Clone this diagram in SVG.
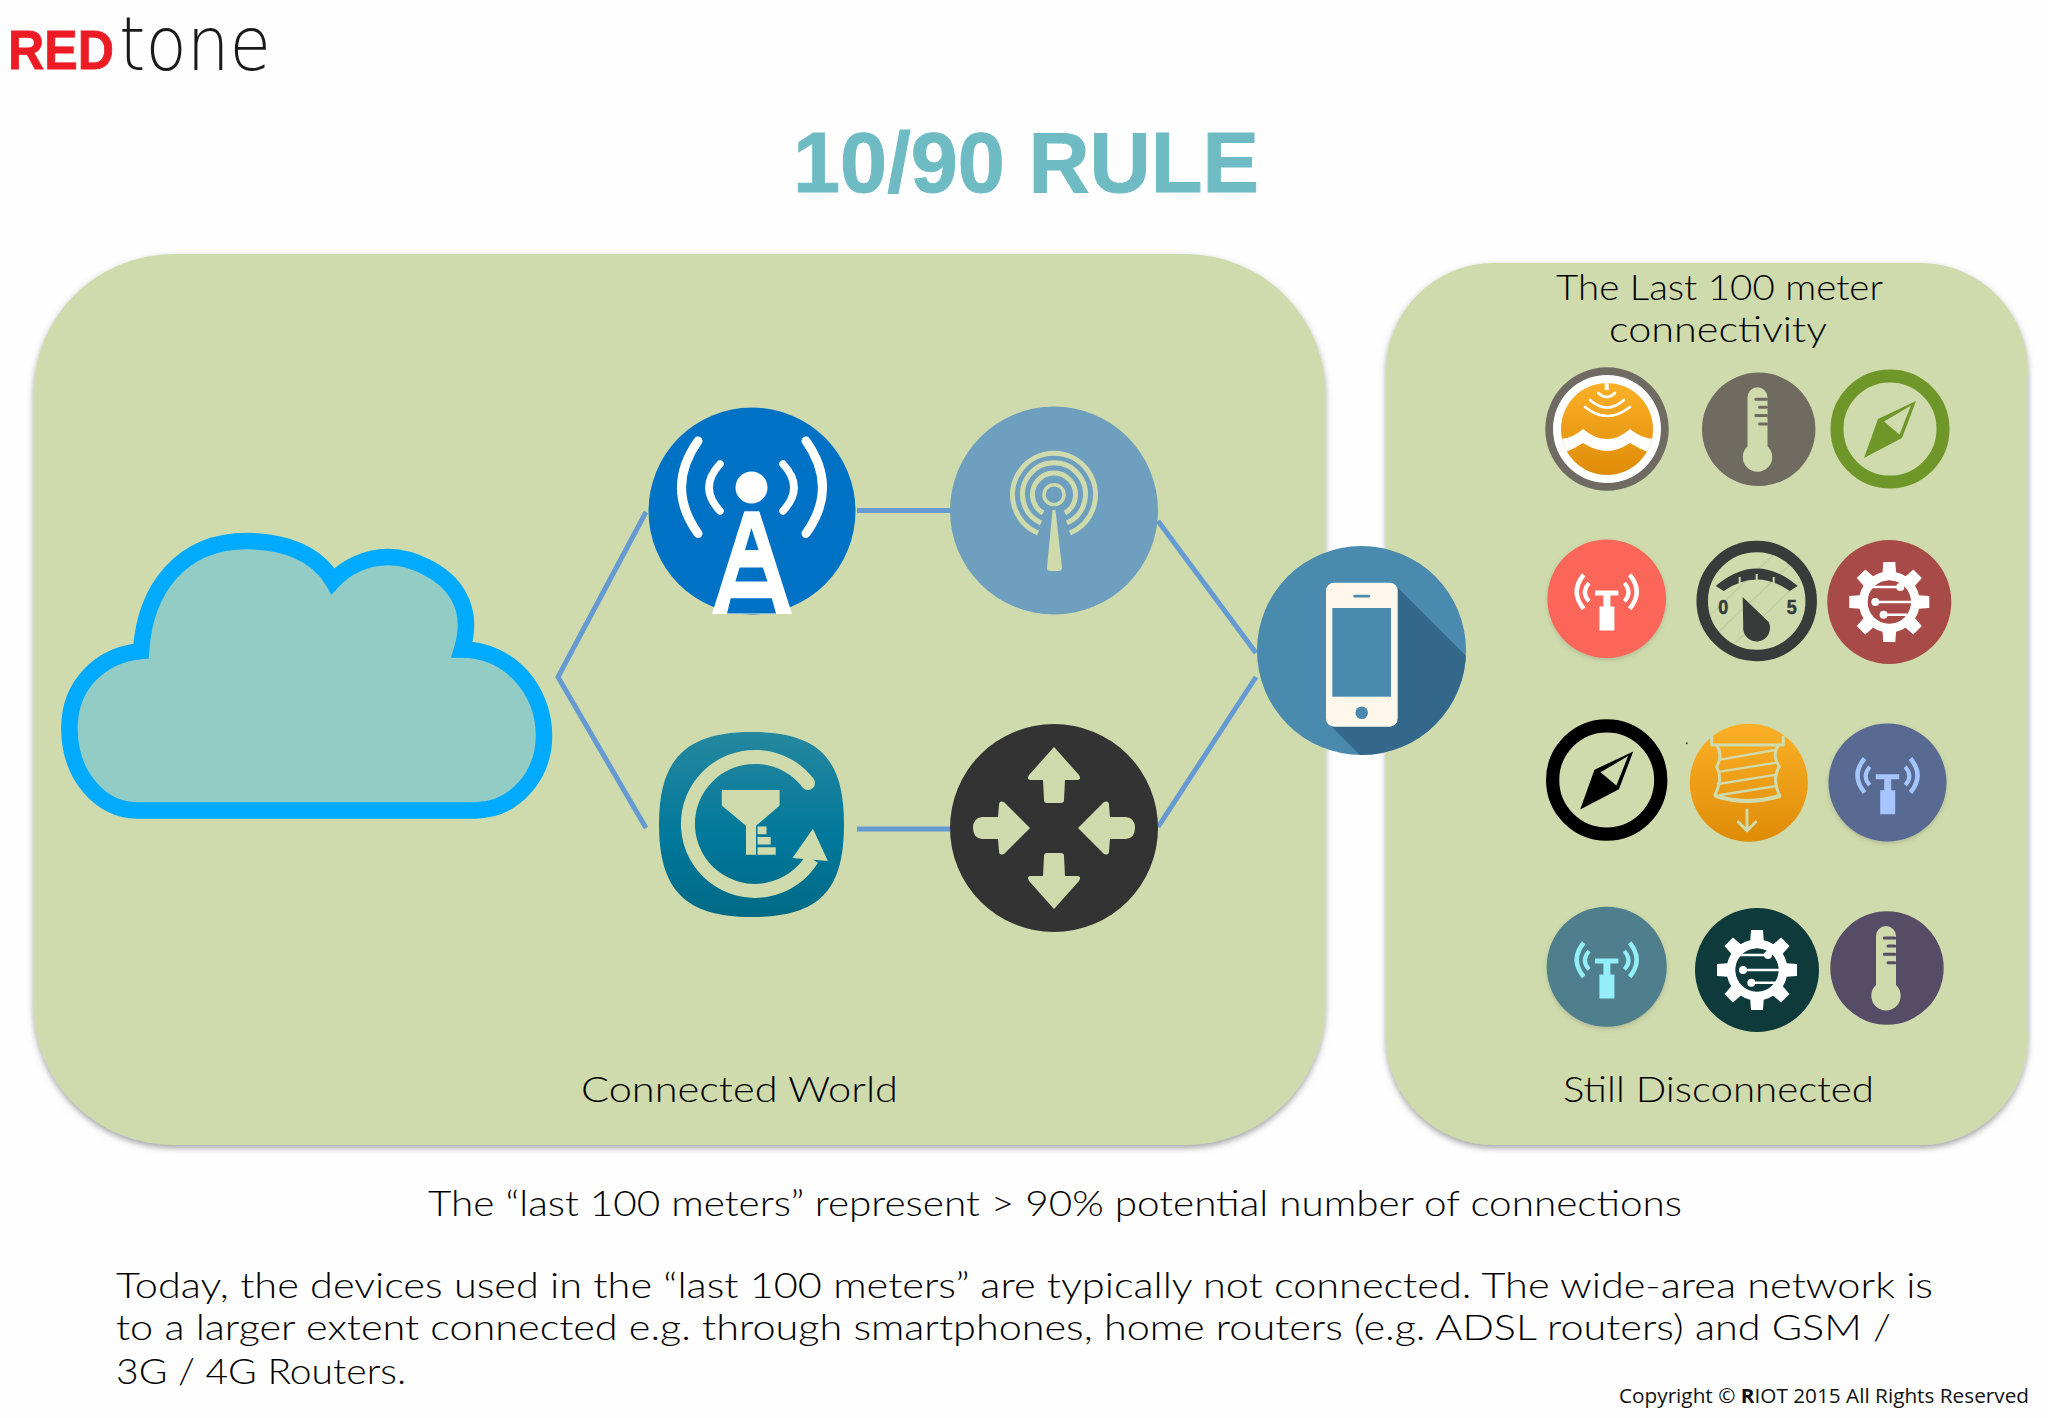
<svg xmlns="http://www.w3.org/2000/svg" width="2048" height="1418" viewBox="0 0 2048 1418">
<style>
.t{font-family:"Lato","Open Sans","Liberation Sans",sans-serif;font-weight:300;font-size:36px;fill:#000}
.conn{stroke:#659ad2;stroke-width:5;fill:none}
.pf{fill:#cfdbac}
.ps{stroke:#cfdbac;fill:none}
.cur{fill:currentColor}
.gearbody{fill:#fff}
</style>
<defs>
<filter id="ps" x="-5%" y="-5%" width="110%" height="110%"><feDropShadow dx="0" dy="3" stdDeviation="3" flood-color="#555" flood-opacity=".55"/></filter>
<filter id="is" x="-10%" y="-10%" width="120%" height="125%"><feDropShadow dx="0" dy="2" stdDeviation="2" flood-color="#555" flood-opacity=".25"/></filter>
<linearGradient id="org" x1="0" y1="0" x2="0" y2="1"><stop offset="0" stop-color="#fbb027"/><stop offset="1" stop-color="#df8c08"/></linearGradient>
<linearGradient id="teal" x1="0" y1="0" x2="0" y2="1"><stop offset="0" stop-color="#25889f"/><stop offset=".6" stop-color="#00779a"/><stop offset="1" stop-color="#006a85"/></linearGradient>
<clipPath id="phoneclip"><circle cx="1361.5" cy="650.5" r="104.5"/></clipPath>
<clipPath id="orgclip"><circle cx="1607" cy="429" r="46"/></clipPath>
<g id="thermo">
<path class="pf" d="M-10 -32A10 10 0 0 1 10 -32V17A14.7 14.7 0 1 1 -10 17Z" transform="translate(-1.5 0)"/>
<path d="M-1.7 -30H9M2 -22H9M-1.7 -13.7H9M2 -5.3H9" transform="translate(-1.5 0)" stroke="currentColor" stroke-width="3" stroke-linecap="round" fill="none"/>
</g>
<g id="compass">
<circle r="53" fill="none" stroke="currentColor" stroke-width="13"/>
<path class="cur" d="M26 -28L12 9L-26 29L-12 -10Z"/>
<path class="pf" d="M-6 -7.5L21 -23.5L9.5 5.5Z"/>
</g>
<g id="mast" fill="none" stroke="currentColor" stroke-linecap="butt">
<path class="cur" stroke="none" d="M-7.3 7.7H7.7V31.7H-7.3ZM-3.3 -4H3.7V8H-3.3ZM-11.7 -8.3H11.7V-3.3H-11.7Z"/>
<path stroke-width="4" d="M-17.7 -15.7Q-26 -6 -17.7 2.7M17.7 -15.7Q26 -6 17.7 2.7"/>
<path stroke-width="4.5" d="M-23 -24Q-37 -7 -23 10M23 -24Q37 -7 23 10"/>
</g>
<g id="gear">
<g class="gearbody">
<path d="M-6 -40H6L7 -26H-7Z"/>
<path d="M-6 -40H6L7 -26H-7Z" transform="rotate(45)"/>
<path d="M-6 -40H6L7 -26H-7Z" transform="rotate(90)"/>
<path d="M-6 -40H6L7 -26H-7Z" transform="rotate(135)"/>
<path d="M-6 -40H6L7 -26H-7Z" transform="rotate(180)"/>
<path d="M-6 -40H6L7 -26H-7Z" transform="rotate(225)"/>
<path d="M-6 -40H6L7 -26H-7Z" transform="rotate(270)"/>
<path d="M-6 -40H6L7 -26H-7Z" transform="rotate(315)"/>
</g>
<circle r="26" fill="none" stroke="#fff" stroke-width="9"/>
<circle r="21.5" fill="currentColor"/>
<path d="M-22 -15H11M-14 0H22M-5.7 12.7H18" stroke="#fff" stroke-width="2.6" fill="none"/>
<circle cx="11" cy="-15" r="4" fill="#fff"/><circle cx="-14" cy="0" r="4" fill="#fff"/><circle cx="-5.7" cy="12.7" r="4" fill="#fff"/>
</g>
</defs>

<rect width="2048" height="1418" fill="#fefefe"/>

<g id="logo">
<text x="8" y="69" font-family="'Liberation Sans',sans-serif" font-weight="700" font-size="56" fill="#ed1c24" stroke="#ed1c24" stroke-width=".8" textLength="106" lengthAdjust="spacingAndGlyphs">RED</text>
<text x="119" y="70" font-family="'DejaVu Sans',sans-serif" font-weight="200" font-size="75" fill="#1a1a1a" textLength="152" lengthAdjust="spacingAndGlyphs">tone</text>
</g>
<text id="title" x="793" y="192" font-family="'Liberation Sans',Arial,sans-serif" font-weight="700" font-size="85" fill="#6fbbc4" stroke="#6fbbc4" stroke-width="1" textLength="466" lengthAdjust="spacingAndGlyphs">10/90 RULE</text>

<g id="panel-connected"><rect x="33.5" y="254" width="1292" height="891" rx="140" class="pf" filter="url(#ps)"/>
<text class="t" x="581" y="1102" textLength="317" lengthAdjust="spacingAndGlyphs">Connected World</text></g>
<g id="panel-disconnected"><rect x="1386" y="263" width="642" height="882" rx="108" class="pf" filter="url(#ps)"/>
<text class="t" x="1556" y="300" textLength="327" lengthAdjust="spacingAndGlyphs">The Last 100 meter</text>
<text class="t" x="1609" y="342" textLength="218" lengthAdjust="spacingAndGlyphs">connectivity</text>
<text class="t" x="1563" y="1102" textLength="311" lengthAdjust="spacingAndGlyphs">Still Disconnected</text></g>

<g id="connectors">
<path class="conn" d="M646 512L558 677L646 828"/>
<path class="conn" d="M857 510.500H950M857 829H950"/>
<path class="conn" d="M1158 521L1256 653M1158 827L1256 677"/>
</g>

<g id="cloud">
<path d="M136.600 810.400H475C515 810.400 544 775 544 736C544 690 510 650 462 649.600C468 630 468 612 458 595C445 572 412 557 388 557C365 557 345 568 333 581C316 552 282 541 247 541C180 541 145 590 141 651C100 655 69.400 685 69.400 728C69.400 775 100 810.400 136.600 810.400Z" fill="#92ccc5" stroke="#00aaff" stroke-width="16.500" stroke-linejoin="miter"/>
</g>

<g id="tower">
<circle cx="752" cy="511" r="103.500" fill="#0072c6"/>
<circle cx="751.500" cy="487.500" r="16" fill="#fff"/>
<path d="M720 464Q698 487.500 720 511M783 464Q805 487.500 783 511" fill="none" stroke="#fff" stroke-width="7.500" stroke-linecap="round"/>
<path d="M698 441Q665 487.500 698 533.500M806 441Q839 487.500 806 533.500" fill="none" stroke="#fff" stroke-width="9" stroke-linecap="round"/>
<path d="M744.300 511.300H759.300L792 614H712Z" fill="#fff"/>
<path d="M751.400 528L745 550H758.600ZM739.600 567.600H762.900L767.500 581.600H735.400ZM730.700 598.300H771.800L776 613.500H727Z" fill="#0072c6"/>
</g>

<g id="antenna">
<circle cx="1054" cy="510.500" r="104" fill="#6f9fbf"/>
<g class="ps" stroke-width="5">
<path d="M1038 533A41.500 41.500 0 1 1 1070 533"/>
<path d="M1041 523A31.500 31.500 0 1 1 1067 523"/>
<path d="M1043 513A21.500 21.500 0 1 1 1065 513"/>
<circle cx="1054" cy="494.700" r="10" stroke-width="3.500"/>
</g>
<path d="M1054 505L1045 520V560H1063V520Z" fill="#6f9fbf"/>
<path class="pf" d="M1052.500 510H1055.500L1062 568Q1062 571 1058 571H1050Q1047 571 1047 568Z"/>
</g>

<g id="filter-app">
<path d="M751.500 732C820 732 844 760 844 824C844 890 820 917 751.500 917C685 917 659 890 659 824C659 760 685 732 751.500 732Z" fill="url(#teal)"/>
<path d="M808 783A67 67 0 1 0 812 859" class="ps" stroke-width="14" stroke-linecap="butt"/>
<circle cx="808" cy="783" r="7" class="pf"/>
<path class="pf" d="M812.900 828.800L827.900 861L792.500 858Z"/>
<path class="pf" d="M721.800 789.900H779.600V805.500L756 825.800V854.700H746V825.800L721.800 805.500ZM757.500 826.500H766.500V834.300H757.500ZM757.500 837H770.700V844.400H757.500ZM757.500 847.300H775.700V854.700H757.500Z"/>
</g>

<g id="router">
<circle cx="1054" cy="828" r="104" fill="#333"/>
<g class="pf" transform="translate(1054 828)">
<path d="M0 -81L25 -53Q28 -48 23 -48H11L10 -28Q10 -25 7 -25H-7Q-10 -25 -10 -28L-11 -48H-23Q-28 -48 -25 -53Z"/>
<path d="M0 -81L25 -53Q28 -48 23 -48H11L10 -28Q10 -25 7 -25H-7Q-10 -25 -10 -28L-11 -48H-23Q-28 -48 -25 -53Z" transform="rotate(180)"/>
<path d="M-24 0L-50 -26Q-55 -28 -55 -23L-56 -11H-72Q-81 -10 -81 0Q-81 10 -72 11H-56L-55 23Q-55 28 -50 26Z"/>
<path d="M-24 0L-50 -26Q-55 -28 -55 -23L-56 -11H-72Q-81 -10 -81 0Q-81 10 -72 11H-56L-55 23Q-55 28 -50 26Z" transform="rotate(180)"/>
</g>
</g>

<g id="phone">
<circle cx="1361.500" cy="650.500" r="104.500" fill="#4a8aae"/>
<path clip-path="url(#phoneclip)" d="M1396 586L1490 680V800H1405L1330 725Z" fill="#33688a"/>
<rect x="1326" y="582.700" width="71.700" height="144" rx="8" fill="#fff8ea"/>
<rect x="1332.300" y="608" width="58.700" height="88.700" fill="#4a8aae"/>
<rect x="1353.300" y="594.700" width="16.700" height="2.700" rx="1" fill="#4a8aae"/>
<circle cx="1361.700" cy="712.700" r="6.300" fill="#4a8aae"/>
</g>

<g id="icon-ocean">
<circle cx="1607" cy="429" r="61.700" fill="#6f6b63"/>
<circle cx="1607" cy="429" r="54" fill="#fff"/>
<circle cx="1607" cy="429" r="46" fill="url(#org)"/>
<g clip-path="url(#orgclip)">
<path d="M1558 439Q1572 439 1583 429Q1595 439 1607 439Q1619 439 1630 429Q1642 439 1656 439V452L1650 453Q1640 449 1630 443Q1618 451 1607 451Q1596 451 1583 443Q1574 449 1563 453L1558 452Z" fill="#fff"/>
</g>
<path d="M1606.700 383V390" stroke="#fff" stroke-width="4"/>
<path d="M1598.300 393Q1606.700 401 1615 393M1590 400Q1607 415 1624 400M1585 407Q1607 425 1630 407" fill="none" stroke="#fff" stroke-width="2.600" stroke-linecap="round"/>
</g>
<g id="icon-thermo-grey"><circle cx="1758.700" cy="429.300" r="56.700" fill="#6f6b60"/><use href="#thermo" transform="translate(1759 429.300)" style="color:#6f6b60"/></g>
<g id="icon-compass-green"><use href="#compass" transform="translate(1890 429)" style="color:#6f9628"/></g>

<g id="icon-mast-red"><circle cx="1606.700" cy="598.700" r="59.300" fill="#fb6658" filter="url(#is)"/><use href="#mast" transform="translate(1606.700 598.700)" style="color:#fff"/></g>
<g id="icon-gauge" transform="translate(1756.700 601)">
<path d="M-48 40L45 -47M-30 50L54 -30M-58 25L25 -54" stroke="#888" stroke-opacity=".18" stroke-width="1.500" fill="none"/>
<circle r="54.500" fill="none" stroke="#373b3a" stroke-width="11.500"/>
<path d="M-41 -15Q0 -50 41 -15L33 -10Q0 -33 -33 -10Z" fill="#373b3a"/>
<path class="ps" stroke-width="2" d="M-17 -18V-24M0 -21V-27M17 -18V-24"/>
<path d="M-14 -4L12 21A13.500 13.500 0 1 1 -13.500 25Z" fill="#373b3a"/>
<text x="-38.500" y="13" font-family="'Liberation Sans',sans-serif" font-weight="700" font-size="21" fill="#373b3a" stroke="#373b3a" stroke-width=".5" textLength="10" lengthAdjust="spacingAndGlyphs">0</text>
<text x="30" y="13" font-family="'Liberation Sans',sans-serif" font-weight="700" font-size="21" fill="#373b3a" stroke="#373b3a" stroke-width=".5" textLength="10" lengthAdjust="spacingAndGlyphs">5</text>
</g>
<g id="icon-gear-red"><circle cx="1889.300" cy="602" r="62" fill="#a84a47"/><use href="#gear" transform="translate(1889.300 602)" style="color:#a84a47"/></g>

<g id="icon-compass-black"><use href="#compass" transform="translate(1606.700 780) scale(1.02)" style="color:#000"/></g>
<g id="icon-bulb">
<circle cx="1748.800" cy="782.800" r="59" fill="url(#org)"/>
<g transform="translate(1520 700) scale(.3333)" fill="none" stroke="#cfdbac" stroke-width="9" stroke-linejoin="round" stroke-linecap="round">
<path d="M575 112V135H790V112"/>
<path d="M590 135Q610 165 590 200Q610 235 585 285M775 135Q755 165 778 200Q755 235 778 285"/>
<path stroke-width="7" d="M605 178L765 150M600 215L770 188M595 252L770 224M600 285L770 258"/>
<path stroke-width="12" d="M588 288Q680 318 778 288"/>
<path d="M681 330V390M655 366L681 392L707 366"/>
</g>
<circle cx="1686.700" cy="743.300" r="1" fill="#444"/>
</g>
<g id="icon-mast-blue"><circle cx="1887.500" cy="782.500" r="59" fill="#586b92" filter="url(#is)"/><use href="#mast" transform="translate(1887.500 782.500)" style="color:#a6c4ff"/></g>

<g id="icon-mast-teal"><circle cx="1606.700" cy="966.700" r="60" fill="#4f7f8c" filter="url(#is)"/><use href="#mast" transform="translate(1606.700 966.700)" style="color:#94eef8"/></g>
<g id="icon-gear-dark"><circle cx="1757" cy="970" r="62" fill="#0e3a3c"/><use href="#gear" transform="translate(1757 970)" style="color:#0e3a3c"/></g>
<g id="icon-thermo-purple"><circle cx="1887" cy="968" r="56.700" fill="#574c66"/><use href="#thermo" transform="translate(1887.500 968)" style="color:#574c66"/></g>

<g id="caption">
<text class="t" x="428" y="1216" textLength="1254" lengthAdjust="spacingAndGlyphs">The “last 100 meters” represent &gt; 90% potential number of connections</text>
<text class="t" x="116" y="1298" textLength="1817" lengthAdjust="spacingAndGlyphs">Today, the devices used in the “last 100 meters” are typically not connected. The wide-area network is</text>
<text class="t" x="116" y="1340" textLength="1775" lengthAdjust="spacingAndGlyphs">to a larger extent connected e.g. through smartphones, home routers (e.g. ADSL routers) and GSM /</text>
<text class="t" x="116" y="1384" textLength="290" lengthAdjust="spacingAndGlyphs">3G / 4G Routers.</text>
</g>
<text id="copyright" x="1619" y="1403" font-family="'Open Sans','Noto Sans',sans-serif" font-size="20" fill="#111" textLength="410" lengthAdjust="spacingAndGlyphs">Copyright © <tspan font-weight="700">R</tspan>IOT 2015 All Rights Reserved</text>
</svg>
